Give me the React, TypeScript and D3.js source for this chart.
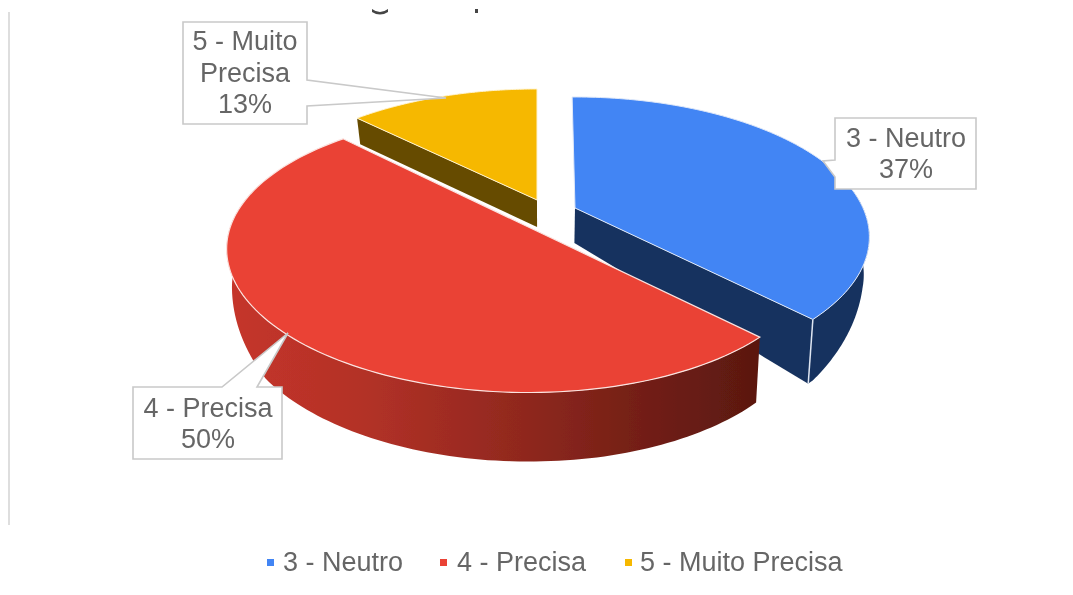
import React from "react";
import * as d3 from "d3";

const categories = ["3 - Neutro", "4 - Precisa", "5 - Muito Precisa"];
const seriesValues = [37, 50, 13];
const labelLines = [["3 - Neutro"], ["4 - Precisa"], ["5 - Muito", "Precisa"]];
const topColors = ["#4285f4", "#ea4335", "#f6b802"];
const faceColors = ["#17335f", "#5c1811", "#664c00"];

const W = 1073, H = 595;
const FONT = "'Liberation Sans', Arial, sans-serif";
const TEXT = "#666666";
const R = 288, B = 134, K = 0.207;
const apexes = [[575, 208], [521, 223.5], [537, 200]];
const shears = [0, 0.012, 0];
const angleTweaks = [[-0.012, 0.035], [0.03, 0.03], [0.02, 0]];
const thick = d3.scaleLinear().domain([100, 200, 210, 250, 316, 391]).range([26, 27, 37, 38, 64, 69]).clamp(true);

const top = (i: number, a: number): [number, number] => {
  const c = apexes[i];
  const u = Math.sin(a), v = -Math.cos(a), w = 1 / (1 - K * v);
  const dx = R * u * w;
  return [c[0] + dx, c[1] + B * v * w + dx * shears[i]];
};
const drop = (p: [number, number]): [number, number] => [p[0] + (540 - p[0]) * 0.017, p[1] + thick(p[1])];

const boxes = [
  { pts: [[835, 118], [976, 118], [976, 189], [835, 189], [835, 177], [823, 161], [835, 160]], cx: 906, y0: 147, lh: 31 },
  { pts: [[133, 387], [222, 387], [288, 333], [257, 387], [282, 387], [282, 459], [133, 459]], cx: 208, y0: 417, lh: 31 },
  { pts: [[183, 22], [307, 22], [307, 80], [446, 98], [307, 106], [307, 124], [183, 124]], cx: 245, y0: 50, lh: 31.5 },
];
const legendX = [267, 440, 625];
const legendTextX = [283, 457, 640];

export default function App() {
  const arcs = d3.pie<number>().sort(null).value((d) => d)(seriesValues);
  const line = d3.line<[number, number]>();
  const samples = (a0: number, a1: number) => d3.range(0, 121).map((i) => a0 + ((a1 - a0) * i) / 120);
  const start = (i: number) => arcs[i].startAngle + angleTweaks[i][0];
  const end = (i: number) => arcs[i].endAngle + angleTweaks[i][1];

  const wall = (i: number, a0: number, a1: number) => {
    const t = samples(a0, a1).map((a) => top(i, a));
    return line([...t, ...t.map(drop).reverse()]) + "Z";
  };
  const surface = (i: number) => {
    const t = samples(start(i), end(i)).map((a) => top(i, a));
    return line([apexes[i] as [number, number], ...t]) + "Z";
  };
  const face = (i: number, a: number) => {
    const c = apexes[i] as [number, number], e = top(i, a);
    return line([c, e, drop(e), drop(c)]) + "Z";
  };

  const cornerTop = top(0, end(0));

  return (
    <svg width={W} height={H} viewBox={`0 0 ${W} ${H}`} style={{ position: "absolute", left: 0, top: 0, background: "#fff" }}>
      <defs>
        <filter id="soft" x="-5%" y="-5%" width="110%" height="110%">
          <feGaussianBlur stdDeviation="0.55" />
        </filter>
        <linearGradient id="redWall" gradientUnits="userSpaceOnUse" x1={230} x2={760} y1={0} y2={0}>
          <stop offset="0" stopColor="#c5352a" />
          <stop offset="0.25" stopColor="#b33127" />
          <stop offset="0.55" stopColor="#90281e" />
          <stop offset="0.8" stopColor="#701e15" />
          <stop offset="1" stopColor="#5a1810" />
        </linearGradient>
      </defs>
      <g filter="url(#soft)">
        <line x1={9} x2={9} y1={12} y2={525} stroke="#dedede" strokeWidth={2} />
        <path d="M372 9 Q380 15 388 9 L388 12 Q380 17 372 12Z" fill="#444" />
        <rect x={475} y={9} width={3} height={4} fill="#444" />

        {/* blue slice sides */}
        <path d={wall(0, Math.PI * 0.45, end(0))} fill={faceColors[0]} />
        <path d={face(0, end(0))} fill={faceColors[0]} />
        <line x1={cornerTop[0]} y1={cornerTop[1]} x2={drop(cornerTop)[0]} y2={drop(cornerTop)[1]} stroke="#dfe6f2" strokeWidth={1.5} />
        <path d={surface(0)} fill={topColors[0]} stroke="#dfe8f8" strokeWidth={1} />

        {/* yellow slice sides */}
        <path d={face(2, start(2))} fill={faceColors[2]} />
        <path d={surface(2)} fill={topColors[2]} stroke="#fff3d0" strokeWidth={1} />

        {/* red slice sides */}
        <path d={wall(1, start(1), end(1) - 0.5)} fill="url(#redWall)" />
        <path d={surface(1)} fill={topColors[1]} stroke="#fbe3e0" strokeWidth={1.2} />

        {boxes.map((b, i) => (
          <g key={categories[i]}>
            <path d={line(b.pts as [number, number][]) + "Z"} fill="#fff" stroke="#c9c9c9" strokeWidth={1.6} />
            <text textAnchor="middle" fontFamily={FONT} fontSize={27} fill={TEXT}>
              {[...labelLines[i], `${seriesValues[i]}%`].map((t, j) => (
                <tspan key={j} x={b.cx} y={b.y0 + j * b.lh}>{t}</tspan>
              ))}
            </text>
          </g>
        ))}

        {categories.map((c, i) => (
          <g key={c}>
            <rect x={legendX[i]} y={559} width={7} height={7} fill={topColors[i]} />
            <text x={legendTextX[i]} y={571} fontFamily={FONT} fontSize={27} fill={TEXT}>{c}</text>
          </g>
        ))}
      </g>
    </svg>
  );
}
